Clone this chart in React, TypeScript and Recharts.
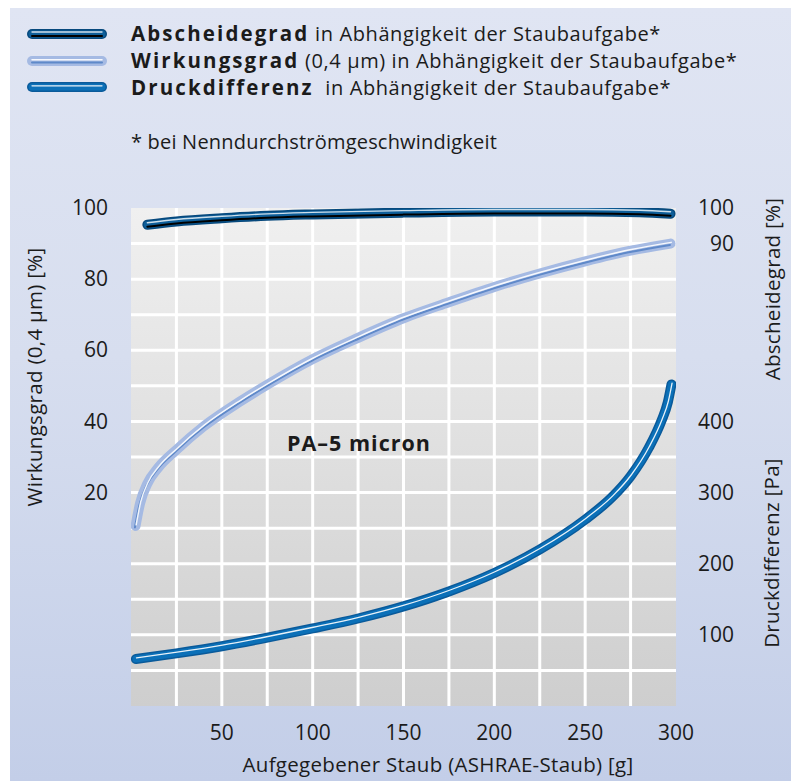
import React from 'react';
import { LineChart, Line, XAxis, YAxis, CartesianGrid, ReferenceLine } from 'recharts';

// Abscheidegrad [%] über aufgegebenem Staub [g]
const abscheideDust = [9, 25, 50, 75, 100, 150, 200, 250, 280, 297];
const abscheideValues = [95.3, 96.2, 97.1, 97.8, 98.2, 98.7, 99.0, 99.0, 98.8, 98.4];

// Wirkungsgrad (0,4 µm) [%]
const wirkungDust = [2.5, 5, 9, 15, 25, 40, 60, 75, 100, 125, 150, 175, 200, 225, 250, 275, 297];
const wirkungValues = [10.6, 17, 22.5, 27, 32, 38.6, 45.6, 50.3, 57.5, 63.5, 69, 73.5, 77.8, 81.6, 85, 88, 90];

// Druckdifferenz [Pa]
const druckDust = [2.7, 25, 50, 75, 100, 125, 150, 175, 200, 225, 250, 265, 275, 285, 292, 295.5, 297.5];
const druckValues = [66, 74, 84, 96, 109, 123, 140, 161, 187, 220, 262, 294, 323, 363, 401, 427, 452];

const xTicks = [50, 100, 150, 200, 250, 300];
const gridX = [25, 50, 75, 100, 125, 150, 175, 200, 225, 250, 275];
const leftTicks = [20, 40, 60, 80, 100];
const gridY = [-30, -20, -10, 0, 10, 20, 30, 40, 50, 60, 70, 80, 90];
const abscheideTicks = [90, 100];
const druckTicks = [100, 200, 300, 400];

type TubeLayer = { color: string; width: number; shift?: string; opacity?: number };

const abscheideTube: TubeLayer[] = [
  { color: '#07497d', width: 10 },
  { color: '#0d5e99', width: 7 },
  { color: '#000000', width: 2, shift: 'shift-dn' },
  { color: '#ffffff', width: 1.4, shift: 'shift-up', opacity: 0.8 },
];
const wirkungTube: TubeLayer[] = [
  { color: '#a5bae3', width: 10 },
  { color: '#5f89c9', width: 2, shift: 'shift-dn-sm' },
  { color: '#ffffff', width: 1.5, shift: 'shift-up-sm', opacity: 0.9 },
];
const druckTube: TubeLayer[] = [
  { color: '#0a5a9a', width: 10 },
  { color: '#0b70b8', width: 7 },
  { color: '#ffffff', width: 1.3, shift: 'shift-up-sm', opacity: 0.9 },
];

const toPoints = (xs: number[], ys: number[]) => xs.map((x, i) => ({ x, v: ys[i] }));
const abscheideData = toPoints(abscheideDust, abscheideValues);
const wirkungData = toPoints(wirkungDust, wirkungValues);
const druckData = toPoints(druckDust, druckValues);

const legendItems = [
  { bold: 'Abscheidegrad', rest: ' in Abhängigkeit der Staubaufgabe*', tube: abscheideTube },
  { bold: 'Wirkungsgrad', rest: ' (0,4 µm) in Abhängigkeit der Staubaufgabe*', tube: wirkungTube },
  { bold: 'Druckdifferenz', rest: '  in Abhängigkeit der Staubaufgabe*', tube: druckTube },
];

const FONT = '"Open Sans", "DejaVu Sans", sans-serif';
const TXT = '#1b1b1b';

const W = 781;
const H = 773;
const M = { top: 200, right: 0, bottom: 45, left: 61 };
const RIGHT_W = 115;
const PLOT_RIGHT = W - M.right - RIGHT_W;

const css = `
body { margin: 0; overflow: hidden; }
.shift-up .recharts-curve { transform: translate(0px, -2px); }
.shift-dn .recharts-curve { transform: translate(0px, 2px); }
.shift-up-sm .recharts-curve { transform: translate(0.6px, -1.2px); }
.shift-dn-sm .recharts-curve { transform: translate(-0.6px, 1.4px); }
`;

const shiftOf = (s?: string) =>
  s === 'shift-up' ? 'translate(0,-2)' : s === 'shift-dn' ? 'translate(0,2)' : s === 'shift-up-sm' ? 'translate(0,-1.2)' : s === 'shift-dn-sm' ? 'translate(0,1.4)' : undefined;

function Swatch({ tube }: { tube: TubeLayer[] }) {
  return (
    <svg width={90} height={14} style={{ display: 'block' }}>
      {tube.map((l, i) => (
        <line key={i} x1={10} y1={7} x2={80} y2={7} stroke={l.color} strokeWidth={l.width}
          strokeOpacity={l.opacity ?? 1} strokeLinecap="round" transform={shiftOf(l.shift)} />
      ))}
    </svg>
  );
}

const TICK_FS = 21;
const LeftTick = (props: any) => (
  <text x={props.x - 23} y={props.y} dy="0.34em" textAnchor="end" fontSize={TICK_FS} fill={TXT} fontFamily={FONT}>
    {props.payload.value}
  </text>
);
const RightTick = (props: any) => (
  <text x={PLOT_RIGHT + 58} y={props.y} dy="0.34em" textAnchor="end" fontSize={TICK_FS} fill={TXT} fontFamily={FONT}>
    {props.payload.value}
  </text>
);
const BottomTick = (props: any) => (
  <text x={props.x} y={props.y + 26} dy="0.36em" textAnchor="middle" fontSize={TICK_FS} fill={TXT} fontFamily={FONT}>
    {props.payload.value}
  </text>
);

function AxisTitle(props: any) {
  const { text, cx, cy, rotate } = props;
  return (
    <text x={cx} y={cy} dy="0.35em" textAnchor="middle" fontSize={20.5} letterSpacing={0.3} fill={TXT} fontFamily={FONT}
      transform={rotate ? `rotate(-90 ${cx} ${cy})` : undefined}>
      {text}
    </text>
  );
}

function tubeLines(key: string, data: any[], axis: string, tube: TubeLayer[]) {
  return tube.map((l, i) => (
    <Line key={`${key}${i}`} data={data} dataKey="v" yAxisId={axis} type="monotone"
      stroke={l.color} strokeWidth={l.width} strokeOpacity={l.opacity ?? 1} strokeLinecap="round"
      className={l.shift} dot={false} activeDot={false} legendType="none" isAnimationActive={false} />
  ));
}

export default function App() {
  return (
    <div style={{ position: 'absolute', left: 10, top: 8, width: W, height: H, fontFamily: FONT, color: TXT,
      background: 'linear-gradient(180deg, #e0e5f3 0%, #d7deef 45%, #c3cee8 100%)' }}>
      <style>{css}</style>

      {legendItems.map((it, i) => (
        <div key={it.bold} style={{ position: 'absolute', left: 12, top: [13, 40, 66][i], height: 26, display: 'flex', alignItems: 'center' }}>
          <Swatch tube={it.tube} />
        </div>
      ))}
      {legendItems.map((it, i) => (
        <div key={'t' + it.bold} style={{ position: 'absolute', left: 121, top: [12, 39, 66][i], height: 26, lineHeight: '26px', fontSize: 20, letterSpacing: 0.6, whiteSpace: 'pre' }}>
          <span style={{ fontWeight: 700, letterSpacing: 2.1, fontSize: 20.5 }}>{it.bold}</span>{it.rest}
        </div>
      ))}
      <div style={{ position: 'absolute', left: 121, top: 121, height: 26, lineHeight: '26px', fontSize: 20, letterSpacing: 0.2, whiteSpace: 'pre' }}>
        * bei Nenndurchströmgeschwindigkeit
      </div>

      <LineChart width={W} height={H} margin={M}>
        <defs>
          <linearGradient id="plotBg" x1="0" y1="0" x2="0" y2="1">
            <stop offset="0%" stopColor="#f0f0f0" />
            <stop offset="100%" stopColor="#cecece" />
          </linearGradient>
        </defs>
        <CartesianGrid yAxisId="left" horizontal={false} vertical={false} fill="url(#plotBg)" stroke="none" />
        <XAxis type="number" dataKey="x" domain={[0, 300]} ticks={xTicks} axisLine={false} tickLine={false}
          tickSize={0} tickMargin={0} height={30} tick={<BottomTick />} allowDataOverflow
          label={<AxisTitle text="Aufgegebener Staub (ASHRAE-Staub) [g]" cx={428} cy={757} />} />
        <YAxis yAxisId="left" orientation="left" domain={[-40, 100]} ticks={leftTicks} width={60}
          axisLine={false} tickLine={false} tickSize={0} tickMargin={0} tick={<LeftTick />} allowDataOverflow
          label={<AxisTitle text="Wirkungsgrad (0,4 µm) [%]" cx={25} cy={369} rotate />} />
        <YAxis yAxisId="abs" orientation="right" domain={[-40, 100]} ticks={abscheideTicks} width={1}
          axisLine={false} tickLine={false} tickSize={0} tickMargin={0} tick={<RightTick />} allowDataOverflow
          label={<AxisTitle text="Abscheidegrad [%]" cx={763} cy={281} rotate />} />
        <YAxis yAxisId="pa" orientation="right" domain={[0, 700]} ticks={druckTicks} width={RIGHT_W - 1}
          axisLine={false} tickLine={false} tickSize={0} tickMargin={0} tick={<RightTick />} allowDataOverflow
          label={<AxisTitle text="Druckdifferenz [Pa]" cx={762} cy={545} rotate />} />

        {gridX.map((g) => (
          <ReferenceLine key={'gx' + g} x={g} yAxisId="left" stroke="#ffffff" strokeWidth={3} ifOverflow="hidden" />
        ))}
        {gridY.map((g) => (
          <ReferenceLine key={'gy' + g} y={g} yAxisId="left" stroke="#ffffff" strokeWidth={3} ifOverflow="hidden" />
        ))}

        {tubeLines('w', wirkungData, 'left', wirkungTube)}
        {tubeLines('d', druckData, 'pa', druckTube)}
        {tubeLines('a', abscheideData, 'abs', abscheideTube)}
      </LineChart>

      <div style={{ position: 'absolute', left: 277, top: 421, height: 28, lineHeight: '28px', fontSize: 21.5, fontWeight: 700, letterSpacing: 1 }}>
        PA–5 micron
      </div>
    </div>
  );
}
